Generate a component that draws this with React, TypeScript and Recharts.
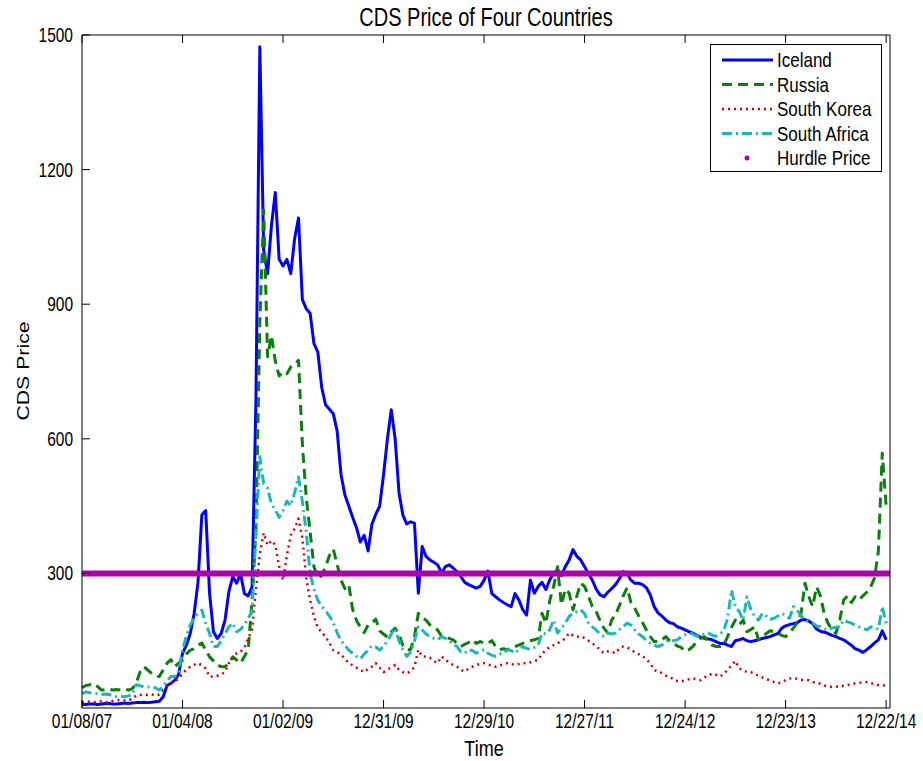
import React from 'react';
import { LineChart, Line, XAxis, YAxis, ReferenceLine } from 'recharts';

const FONT = '"Liberation Sans", Arial, Helvetica, sans-serif';

// one sample every two weeks, starting 01/08/07
const weekStep = 2;
const tickWeeks = [0, 52, 104, 156, 208, 260, 312, 364, 416];
const tickDates = ['01/08/07', '01/04/08', '01/02/09', '12/31/09', '12/29/10', '12/27/11', '12/24/12', '12/23/13', '12/22/14'];
const priceTicks = [300, 600, 900, 1200, 1500];
const hurdlePrice = 300;

const iceland = [
  8, 8, 9, 9, 8, 9, 10, 10, 9, 9,
  10, 11, 10, 11, 12, 12, 13, 12, 13, 14,
  15, 25, 50, 55, 62, 75, 122, 140, 166, 210,
  280, 430, 440, 255, 170, 155, 166, 196, 260, 293,
  278, 300, 255, 250, 270, 690, 1474, 1020, 968, 1075,
  1149, 1000, 985, 1000, 968, 1046, 1092, 910, 890, 880,
  812, 793, 715, 676, 666, 656, 617, 520, 475, 450,
  425, 402, 370, 385, 350, 410, 432, 450, 520, 600,
  665, 600, 480, 430, 410, 415, 412, 256, 360, 338,
  330, 325, 319, 301, 315, 319, 312, 304, 293, 280,
  275, 271, 267, 271, 285, 305, 255, 248, 241, 235,
  230, 226, 255, 241, 219, 207, 285, 256, 271, 280,
  264, 286, 300, 308, 295, 315, 330, 353, 338, 330,
  315, 300, 285, 265, 252, 248, 258, 266, 275, 288,
  304, 300, 285, 278, 278, 275, 268, 252, 226, 212,
  205, 196, 190, 188, 181, 178, 174, 170, 167, 162,
  158, 155, 154, 152, 148, 144, 144, 140, 137, 150,
  152, 155, 150, 148, 150, 152, 155, 157, 159, 163,
  166, 178, 183, 186, 188, 190, 196, 197, 194, 188,
  176, 171, 169, 166, 162, 159, 155, 152, 146, 140,
  132, 129, 124, 130, 137, 145, 152, 172, 152,
];

const russia = [
  45, 50, 52, 55, 48, 40, 40, 42, 40, 41,
  40, 42, 40, 43, 55, 80, 92, 85, 77, 72,
  70, 85, 100, 108, 92, 100, 107, 120, 129, 132,
  140, 145, 129, 114, 105, 96, 92, 92, 100, 114,
  107, 100, 115, 130, 241, 400, 860, 1110, 783, 830,
  773, 740, 750, 745, 760, 765, 775, 588, 470, 393,
  315, 290, 295, 315, 340, 354, 320, 285, 266, 275,
  220, 195, 180, 168, 185, 190, 198, 172, 165, 158,
  170, 178, 165, 139, 130, 130, 160, 211, 200, 196,
  185, 178, 174, 160, 159, 155, 152, 144, 137, 142,
  146, 152, 144, 148, 145, 144, 150, 137, 130, 132,
  130, 135, 137, 140, 144, 146, 150, 152, 155, 211,
  189, 240, 271, 315, 230, 265, 256, 219, 250, 278,
  271, 250, 226, 215, 195, 178, 167, 196, 208, 228,
  250, 268, 235, 222, 205, 190, 174, 159, 148, 148,
  152, 159, 150, 144, 138, 135, 126, 130, 137, 148,
  155, 159, 148, 140, 137, 137, 140, 159, 180, 196,
  185, 196, 170, 175, 181, 152, 160, 166, 172, 170,
  166, 162, 159, 168, 178, 190, 211, 278, 248, 226,
  270, 250, 210, 188, 175, 166, 196, 240, 250, 235,
  248, 241, 250, 258, 270, 290, 350, 568, 450,
];

const southKorea = [
  12, 15, 14, 13, 14, 15, 13, 14, 16, 17,
  18, 17, 18, 20, 28, 29, 30, 29, 30, 28,
  30, 40, 50, 55, 60, 65, 77, 85, 92, 96,
  100, 95, 88, 70, 70, 72, 75, 80, 100, 110,
  122, 125, 135, 155, 175, 266, 344, 390, 363, 373,
  363, 315, 285, 340, 385, 400, 422, 380, 290, 240,
  205, 178, 170, 158, 145, 129, 125, 119, 110, 100,
  95, 90, 85, 80, 88, 92, 100, 90, 80, 86,
  90, 96, 85, 80, 77, 82, 92, 130, 115, 115,
  112, 105, 100, 115, 108, 100, 96, 92, 85, 81,
  88, 92, 96, 98, 100, 97, 94, 92, 95, 97,
  100, 98, 96, 98, 100, 100, 102, 105, 107, 122,
  128, 137, 140, 144, 150, 155, 167, 162, 159, 160,
  156, 150, 144, 138, 130, 122, 126, 125, 122, 133,
  137, 135, 130, 124, 120, 116, 108, 100, 85, 81,
  78, 72, 68, 65, 60, 59, 62, 64, 66, 64,
  62, 68, 72, 77, 74, 70, 76, 85, 95, 105,
  88, 84, 80, 80, 76, 72, 68, 64, 62, 58,
  55, 57, 62, 66, 66, 65, 63, 62, 62, 58,
  56, 54, 50, 48, 47, 48, 47, 50, 51, 53,
  55, 56, 57, 58, 56, 53, 51, 50, 50,
];

const southAfrica = [
  32, 36, 34, 33, 32, 30, 31, 30, 27, 25,
  26, 25, 27, 30, 52, 50, 47, 47, 45, 45,
  40, 50, 60, 70, 70, 80, 130, 160, 185, 200,
  211, 218, 189, 166, 137, 137, 150, 165, 181, 189,
  170, 175, 185, 200, 215, 390, 560, 500, 490, 455,
  441, 425, 440, 461, 451, 480, 515, 461, 393, 300,
  265, 240, 227, 217, 205, 190, 168, 150, 140, 129,
  122, 115, 110, 120, 129, 139, 136, 129, 138, 149,
  165, 178, 150, 130, 115, 125, 150, 181, 174, 165,
  159, 155, 152, 159, 155, 150, 142, 137, 125, 122,
  130, 128, 122, 126, 130, 122, 118, 115, 120, 122,
  130, 128, 122, 130, 137, 133, 130, 135, 140, 167,
  165, 175, 196, 167, 178, 189, 204, 211, 215, 219,
  210, 190, 181, 174, 165, 159, 167, 165, 167, 175,
  181, 189, 185, 174, 165, 159, 150, 144, 140, 137,
  140, 148, 152, 150, 152, 159, 163, 167, 165, 160,
  159, 165, 167, 162, 160, 165, 172, 200, 263, 226,
  215, 196, 248, 220, 204, 196, 211, 205, 198, 200,
  205, 211, 206, 200, 226, 218, 205, 196, 192, 189,
  183, 181, 176, 174, 178, 180, 181, 196, 192, 189,
  185, 181, 178, 174, 181, 178, 176, 226, 189,
];

const series = [
  { key: 'iceland', name: 'Iceland', color: '#0000ff', width: 3, dash: undefined as string | undefined },
  { key: 'russia', name: 'Russia', color: '#0a800a', width: 3, dash: '10 6' },
  { key: 'korea', name: 'South Korea', color: '#d40000', width: 2.5, dash: '2 4' },
  { key: 'africa', name: 'South Africa', color: '#1cb8b8', width: 3, dash: '10 4 2 4' },
];
const hurdleColor = '#b000b0';

const rows = iceland.map((v, i) => ({
  week: i * weekStep,
  iceland: v,
  russia: russia[i],
  korea: southKorea[i],
  africa: southAfrica[i],
}));

const TICK_LEN = 8;

const BottomTick = ({ x, y, payload }: any) => (
  <g>
    <line x1={x} y1={y} x2={x} y2={y - TICK_LEN} stroke="#000" />
    <text
      transform={`translate(${x},${y + 20}) scale(1,1.3)`}
      textAnchor="middle"
      fontSize={15.5}
      fontFamily={FONT}
      fill="#000"
    >
      {tickDates[tickWeeks.indexOf(payload.value)]}
    </text>
  </g>
);

const TopTick = ({ x, y }: any) => (
  <line x1={x} y1={y} x2={x} y2={y + TICK_LEN} stroke="#000" />
);

const LeftTick = ({ x, y, payload }: any) => (
  <g>
    <line x1={x} y1={y} x2={x + TICK_LEN} y2={y} stroke="#000" />
    <text
      transform={`translate(${x - 9},${y + 7}) scale(1,1.3)`}
      textAnchor="end"
      fontSize={15.5}
      fontFamily={FONT}
      fill="#000"
    >
      {payload.value}
    </text>
  </g>
);

const RightTick = ({ x, y }: any) => (
  <line x1={x} y1={y} x2={x - TICK_LEN} y2={y} stroke="#000" />
);

const Labels = () => (
  <svg
    width={923}
    height={761}
    style={{ position: 'absolute', left: 0, top: 0, pointerEvents: 'none' }}
  >
    <text transform="translate(486,26) scale(1,1.25)" textAnchor="middle" fontSize={20} fontFamily={FONT}>
      CDS Price of Four Countries
    </text>
    <text transform="translate(484,756) scale(1,1.25)" textAnchor="middle" fontSize={18} fontFamily={FONT}>
      Time
    </text>
    <text transform="translate(29,371) rotate(-90) scale(1.25,1)" textAnchor="middle" fontSize={17} fontFamily={FONT}>
      CDS Price
    </text>

    {/* legend */}
    <rect x={710.5} y={44.5} width={171} height={127} fill="#fff" stroke="#000" />
    {series.map((s, i) => {
      const cy = 60 + i * 24.5;
      return (
        <g key={s.key}>
          <line x1={722} y1={cy} x2={773} y2={cy} stroke={s.color} strokeWidth={s.width} strokeDasharray={s.dash} />
          <text transform={`translate(777,${cy + 7}) scale(1,1.2)`} fontSize={17} fontFamily={FONT}>
            {s.name}
          </text>
        </g>
      );
    })}
    <circle cx={747} cy={158} r={2.5} fill={hurdleColor} />
    <text transform="translate(777,165) scale(1,1.2)" fontSize={17} fontFamily={FONT}>
      Hurdle Price
    </text>
  </svg>
);

export default function App() {
  return (
    <div style={{ position: 'absolute', left: 0, top: 0, width: 923, height: 761, background: '#fff' }}>
      <LineChart width={923} height={761} data={rows} margin={{ top: 34, right: 32, bottom: 0, left: 32 }}>
        <XAxis
          dataKey="week"
          type="number"
          domain={[0, 418]}
          ticks={tickWeeks}
          interval={0}
          height={53}
          tickSize={0}
          tickMargin={0}
          axisLine={{ stroke: '#000' }}
          tickLine={false}
          tick={<BottomTick />}
        />
        <XAxis
          xAxisId="top"
          orientation="top"
          dataKey="week"
          type="number"
          domain={[0, 418]}
          ticks={tickWeeks}
          interval={0}
          height={1}
          tickSize={0}
          tickMargin={0}
          axisLine={{ stroke: '#000' }}
          tickLine={false}
          tick={<TopTick />}
        />
        <YAxis
          type="number"
          domain={[0, 1500]}
          ticks={priceTicks}
          interval={0}
          width={50}
          tickSize={0}
          tickMargin={0}
          axisLine={{ stroke: '#000' }}
          tickLine={false}
          tick={<LeftTick />}
        />
        <YAxis
          yAxisId="right"
          orientation="right"
          type="number"
          domain={[0, 1500]}
          ticks={priceTicks}
          interval={0}
          width={1}
          tickSize={0}
          tickMargin={0}
          axisLine={{ stroke: '#000' }}
          tickLine={false}
          tick={<RightTick />}
        />
        {series.map((s) => (
          <Line
            key={s.key}
            dataKey={s.key}
            name={s.name}
            type="linear"
            stroke={s.color}
            strokeWidth={s.width}
            strokeDasharray={s.dash}
            strokeLinejoin="round"
            dot={false}
            activeDot={false}
            isAnimationActive={false}
          />
        ))}
        <ReferenceLine y={hurdlePrice} stroke={hurdleColor} strokeWidth={6} zIndex={450} />
      </LineChart>
      <Labels />
    </div>
  );
}
